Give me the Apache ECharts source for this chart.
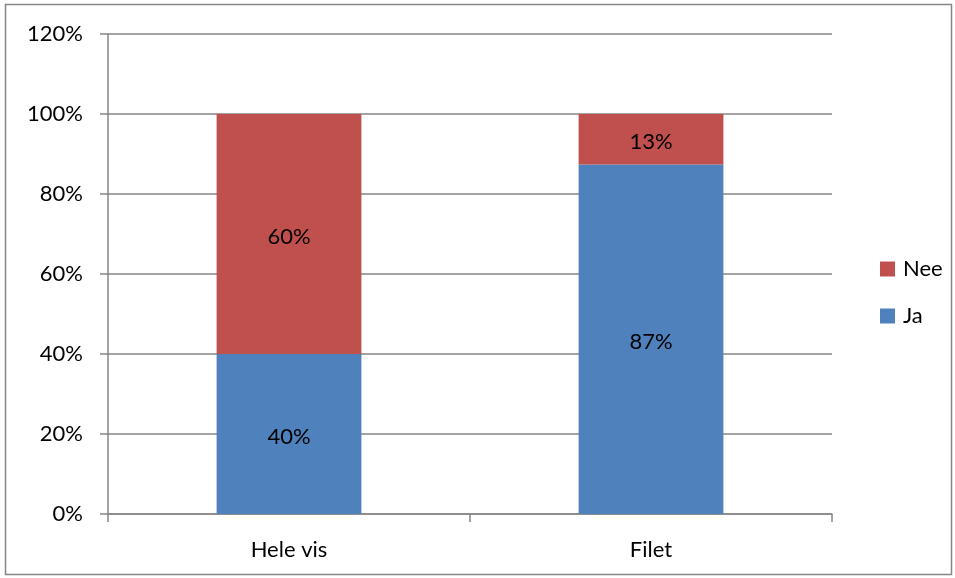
<!DOCTYPE html>
<html><head><meta charset="utf-8">
<script src="https://cdn.jsdelivr.net/npm/echarts@6/dist/echarts.min.js"></script>
<style>html,body{margin:0;padding:0;background:#fff}#c{width:955px;height:578px}</style>
</head><body><div id="c"></div>
<script>
const categories = ['Hele vis', 'Filet'];
const jaValues = [40, 87.4];
const neeValues = [60, 12.6];
const yTicks = [0, 20, 40, 60, 80, 100, 120];

const chart = echarts.init(document.getElementById('c'));
const font = 'Lato, "Open Sans", sans-serif';
const fs = 22;
const axisColor = '#868686';
const lbl = {
  show: true, position: 'inside', color: '#000', fontSize: fs, fontFamily: font,
  formatter: p => Math.round(p.value) + '%', offset: [0, 3]
};
chart.setOption({
  animation: false,
  graphic: [{ type: 'rect', shape: { x: 5.5, y: 4.5, width: 946, height: 570 },
    style: { fill: 'none', stroke: '#868686', lineWidth: 1.5 }, z: -1 }],
  grid: { left: 108, right: 123, top: 34, bottom: 64 },
  legend: {
    data: ['Nee', 'Ja'], orient: 'vertical', left: 875, top: 253,
    itemWidth: 15, itemHeight: 15, itemGap: 25,
    textStyle: { fontSize: fs, fontFamily: font, color: '#000', padding: [0, 0, 0, 3] },
    icon: 'rect'
  },
  xAxis: {
    type: 'category', data: categories,
    axisLine: { lineStyle: { color: axisColor, width: 1.5 } },
    axisTick: { show: true, length: 8, lineStyle: { color: axisColor, width: 1.5 } },
    axisLabel: { margin: 25, fontSize: fs, fontFamily: font, color: '#000' }
  },
  yAxis: {
    type: 'value', min: 0, max: 120, interval: 20,
    axisLine: { show: true, lineStyle: { color: axisColor, width: 1.5 } },
    axisTick: { show: true, length: 8, lineStyle: { color: axisColor, width: 1.5 } },
    splitLine: { lineStyle: { color: axisColor, width: 1.5 } },
    axisLabel: { margin: 25, fontSize: fs, fontFamily: font, color: '#000',
      formatter: v => (yTicks.includes(v) ? v + '%' : '') }
  },
  series: [
    { name: 'Ja', type: 'bar', stack: 's', data: jaValues, barWidth: '40%',
      itemStyle: { color: '#4F81BD' }, label: lbl },
    { name: 'Nee', type: 'bar', stack: 's', data: neeValues, barWidth: '40%',
      itemStyle: { color: '#C0504D' }, label: lbl }
  ]
});
</script></body></html>
